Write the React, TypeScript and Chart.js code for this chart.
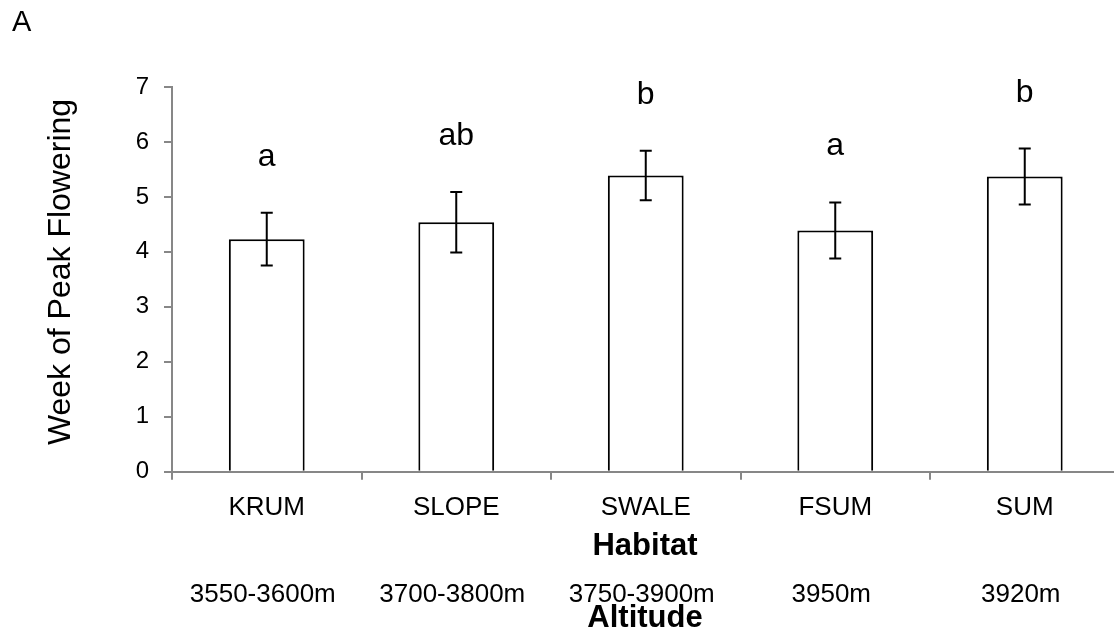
import React, { useEffect, useRef } from "react";
import { Chart, registerables } from "chart.js";

Chart.register(...registerables);

// Habitat categories and their altitude ranges
const habitats = ["KRUM", "SLOPE", "SWALE", "FSUM", "SUM"];
const altitudes = ["3550-3600m", "3700-3800m", "3750-3900m", "3950m", "3920m"];
// Mean week of peak flowering and standard error
const meanWeek = [4.23, 4.54, 5.39, 4.39, 5.37];
const stdErr = [0.48, 0.55, 0.45, 0.51, 0.51];
// Significance groups
const groups = ["a", "ab", "b", "a", "b"];

const FONT = '"Liberation Sans", Arial, Helvetica, sans-serif';
const AXIS_GREY = "#878787";

const overlayPlugin = {
  id: "overlay",
  afterDatasetsDraw(chart: any) {
    const { ctx, scales } = chart;
    const y = scales.y;
    const meta = chart.getDatasetMeta(0);
    ctx.save();
    // error bars
    ctx.strokeStyle = "#000";
    ctx.lineWidth = 2;
    meta.data.forEach((bar: any, i: number) => {
      const x = bar.x;
      const yTop = y.getPixelForValue(meanWeek[i] + stdErr[i]);
      const yBot = y.getPixelForValue(meanWeek[i] - stdErr[i]);
      ctx.beginPath();
      ctx.moveTo(x, yTop);
      ctx.lineTo(x, yBot);
      ctx.moveTo(x - 6, yTop);
      ctx.lineTo(x + 6, yTop);
      ctx.moveTo(x - 6, yBot);
      ctx.lineTo(x + 6, yBot);
      ctx.stroke();
      // group letters above the error bar
      ctx.fillStyle = "#000";
      ctx.font = `32px ${FONT}`;
      ctx.textAlign = "center";
      ctx.textBaseline = "alphabetic";
      ctx.fillText(groups[i], x, yTop - 47);
    });
    ctx.restore();
  },
  afterDraw(chart: any) {
    const { ctx, chartArea } = chart;
    const meta = chart.getDatasetMeta(0);
    const midX = 645;
    ctx.save();
    ctx.fillStyle = "#000";
    // panel letter
    ctx.font = `29px ${FONT}`;
    ctx.textAlign = "left";
    ctx.textBaseline = "alphabetic";
    ctx.fillText("A", 12, 31);
    // axis titles
    ctx.font = `bold 31px ${FONT}`;
    ctx.textAlign = "center";
    ctx.fillText("Habitat", midX, 555);
    ctx.fillText("Altitude", midX, 627);
    // altitude labels beneath each habitat
    ctx.font = `26px ${FONT}`;
    meta.data.forEach((bar: any, i: number) => {
      ctx.fillText(altitudes[i], bar.x - 4, 602);
    });
    // y-axis title
    ctx.translate(70, 272);
    ctx.rotate(-Math.PI / 2);
    ctx.font = `32px ${FONT}`;
    ctx.textAlign = "center";
    ctx.fillText("Week of Peak Flowering", 0, 0);
    ctx.restore();
  },
};

export default function App() {
  const canvasRef = useRef<HTMLCanvasElement>(null);

  useEffect(() => {
    if (!canvasRef.current) return;
    const chart = new Chart(canvasRef.current, {
      type: "bar",
      data: {
        labels: habitats,
        datasets: [
          {
            data: meanWeek,
            backgroundColor: "#ffffff",
            borderColor: "#000000",
            borderWidth: 2,
            barPercentage: 0.4,
            categoryPercentage: 1,
          },
        ],
      },
      options: {
        animation: false,
        responsive: false,
        devicePixelRatio: 1,
        layout: { padding: { left: 0, top: 87, right: 10.5, bottom: 0 } },
        plugins: {
          legend: { display: false },
          tooltip: { enabled: false },
        },
        scales: {
          x: {
            offset: true,
            grid: {
              offset: true,
              drawOnChartArea: false,
              drawTicks: true,
              tickLength: 8,
              color: AXIS_GREY,
              lineWidth: 2,
            },
            border: { color: AXIS_GREY, width: 2 },
            ticks: {
              color: "#000",
              font: { family: FONT, size: 26 },
              padding: 13,
              maxRotation: 0,
            },
            afterFit(scale: any) {
              scale.height = 170.3;
            },
          },
          y: {
            min: 0,
            max: 7,
            grid: {
              drawOnChartArea: false,
              drawTicks: true,
              tickLength: 8,
              color: AXIS_GREY,
              lineWidth: 2,
            },
            border: { color: AXIS_GREY, width: 2 },
            ticks: {
              stepSize: 1,
              color: "#000",
              font: { family: FONT, size: 24 },
              padding: 15,
            },
            afterFit(scale: any) {
              scale.width = 172;
            },
          },
        },
      },
      plugins: [overlayPlugin],
    });
    return () => chart.destroy();
  }, []);

  return (
    <div
      style={{
        position: "fixed",
        left: 0,
        top: 0,
        width: 1114,
        height: 642,
        overflow: "hidden",
        background: "#ffffff",
      }}
    >
      <canvas ref={canvasRef} width={1130} height={642} />
    </div>
  );
}
